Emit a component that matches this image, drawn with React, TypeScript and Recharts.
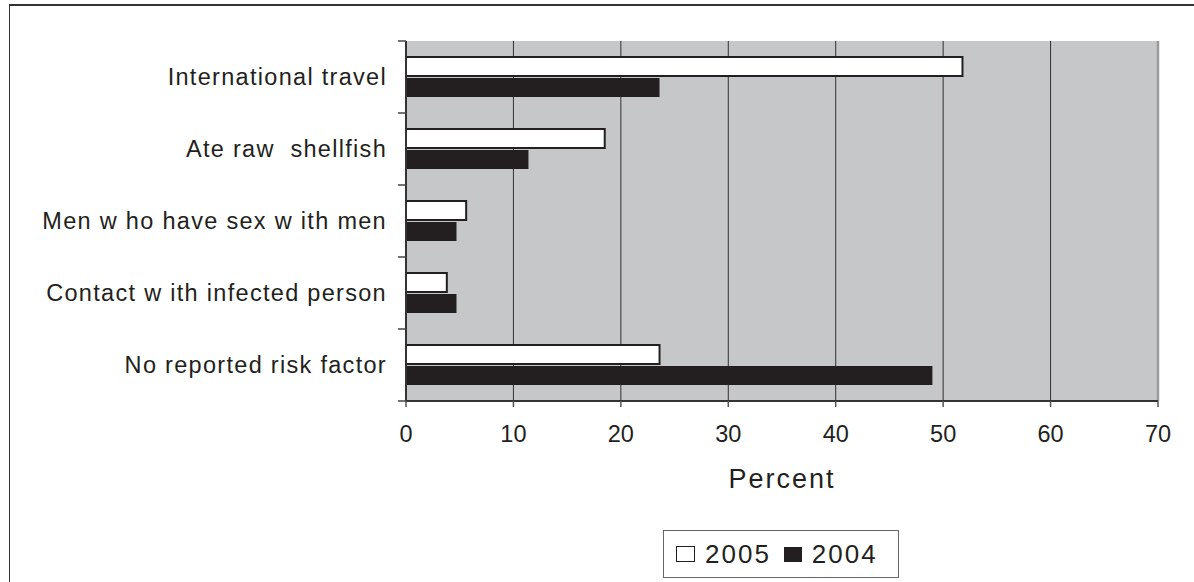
import { BarChart, Bar, XAxis, YAxis, CartesianGrid, ReferenceLine } from 'recharts';

const categories = [
  'International travel',
  'Ate raw\u00a0 shellfish',
  'Men w ho have sex w ith men',
  'Contact w ith infected person',
  'No reported risk factor',
];
const values2005 = [51.8, 18.5, 5.6, 3.8, 23.6];
const values2004 = [23.6, 11.4, 4.7, 4.7, 49.0];
const xTicks = [0, 10, 20, 30, 40, 50, 60, 70];

const ink = '#231f20';
const font = '"Liberation Sans", Arial, sans-serif';

// category label plus the small tick marks on the band edges (Excel style)
function CategoryTick(props: any) {
  const { x, y, payload, index, visibleTicksCount } = props;
  const half = payload && payload.offset ? payload.offset : 36;
  const axisX = x + 19;
  const last = index === (visibleTicksCount ?? categories.length) - 1;
  return (
    <g>
      <line x1={axisX - 8} x2={axisX} y1={y - half} y2={y - half} stroke="#444" strokeWidth={1.5} />
      {last && <line x1={axisX - 8} x2={axisX} y1={y + half} y2={y + half} stroke="#444" strokeWidth={1.5} />}
      <text
        x={x}
        y={y}
        dy="0.355em"
        textAnchor="end"
        fontSize={23.5}
        fill={ink}
        fontFamily={font}
        letterSpacing={1.3}
        style={{ whiteSpace: 'pre' }}
      >
        {payload.value}
      </text>
    </g>
  );
}

export default function App() {
  const data = categories.map((name, i) => ({
    name,
    y2005: values2005[i],
    y2004: values2004[i],
  }));

  return (
    <div style={{ position: 'absolute', left: 0, top: 0, width: 1194, height: 582, background: '#fff', overflow: 'hidden', fontFamily: font }}>
      {/* frame round the figure, only top and left visible */}
      <div style={{ position: 'absolute', left: 9, top: 4, width: 1300, height: 700, borderTop: '2px solid #333', borderLeft: '1.5px solid #333' }} />

      <div style={{ position: 'absolute', left: 0, top: 0 }}>
        <BarChart
          width={1194}
          height={582}
          data={data}
          layout="vertical"
          margin={{ top: 41, right: 36, left: 0, bottom: 81 }}
          barSize={19}
          barGap={2}
        >
          <CartesianGrid horizontal={false} stroke={ink} strokeOpacity={0.9} fill="#c6c7c9" fillOpacity={1} />
          <YAxis
            dataKey="name"
            type="category"
            width={406}
            tickSize={0}
            tickMargin={19}
            tickLine={false}
            axisLine={{ stroke: '#333', strokeWidth: 2 }}
            tick={<CategoryTick />}
          />
          <XAxis
            xAxisId="top"
            type="number"
            orientation="top"
            domain={[0, 70]}
            height={0}
            tick={false}
            tickLine={false}
            axisLine={{ stroke: '#9a9a9a', strokeWidth: 2 }}
          />
          <XAxis
            type="number"
            domain={[0, 70]}
            ticks={xTicks}
            height={100}
            tickSize={6}
            tickMargin={18}
            axisLine={{ stroke: '#333', strokeWidth: 2 }}
            tickLine={{ stroke: '#555', strokeWidth: 1.5 }}
            tick={{ fontSize: 23.5, fill: ink, fontFamily: font }}
            label={{ value: 'Percent', position: 'insideBottom', offset: 13, fontSize: 27, fill: ink, fontFamily: font, letterSpacing: 2 }}
          />
          <ReferenceLine x={70} stroke="#9a9a9a" strokeWidth={2.5} />
          <Bar dataKey="y2005" fill="#ffffff" stroke={ink} strokeWidth={2} isAnimationActive={false} />
          <Bar dataKey="y2004" fill={ink} isAnimationActive={false} />
        </BarChart>
      </div>

      {/* legend */}
      <div
        style={{
          position: 'absolute',
          left: 663,
          top: 530,
          width: 236,
          height: 48,
          boxSizing: 'border-box',
          border: '1px solid #666',
          display: 'flex',
          alignItems: 'center',
          paddingLeft: 12,
          fontSize: 26,
          letterSpacing: 2,
          color: ink,
        }}
      >
        <span style={{ display: 'inline-block', width: 17, height: 14, border: `1.5px solid ${ink}`, background: '#fff', marginRight: 10 }} />
        <span>2005</span>
        <span style={{ display: 'inline-block', width: 18, height: 15, background: ink, marginLeft: 13, marginRight: 10 }} />
        <span>2004</span>
      </div>
    </div>
  );
}
